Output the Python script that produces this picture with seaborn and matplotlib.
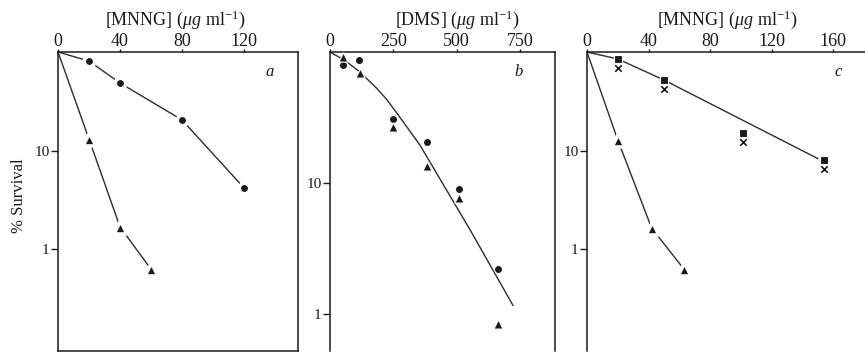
import matplotlib
matplotlib.use("Agg")
import matplotlib.pyplot as plt
from matplotlib.ticker import NullLocator
import seaborn as sns
import pandas as pd

# ---------------- data ----------------
start_conc = 0
start_surv = 100

# panel a: MNNG
a_conc_circle = [20, 40, 80, 120]
a_surv_circle = [81, 48.5, 20.5, 4.2]
a_conc_tri = [20, 40, 60]
a_surv_tri = [13.1, 1.69, 0.63]
a_xticks = [0, 40, 80, 120]

# panel b: DMS
b_conc_circle = [50, 115, 250, 385, 510, 665]
b_surv_circle = [79.6, 86.9, 30.8, 20.5, 9.0, 2.2]
b_conc_tri = [50, 118, 250, 385, 510, 665]
b_surv_tri = [91.6, 69.1, 26.8, 13.5, 7.7, 0.84]
b_curve_conc = [0, 60, 118, 186, 225, 288, 355, 553, 723]
b_curve_surv = [100, 86, 70.4, 52.5, 43.2, 29.5, 19.5, 4.4, 1.16]
b_xticks = [0, 250, 500, 750]

# panel c: MNNG
c_conc_sq = [20, 50, 101, 154]
c_surv_sq = [85, 52, 15, 8.0]
c_conc_x = [20, 50, 101, 154]
c_surv_x = [69, 42, 12.2, 6.6]
c_conc_tri = [20, 42, 63]
c_surv_tri = [12.8, 1.64, 0.63]
c_fit_conc = [0, 20, 50, 150]
c_fit_surv = [100, 85, 52, 8.3]
c_xticks = [0, 40, 80, 120, 160]

y_ticks = [1, 10]
y_ticklabels = ["1", "10"]
title_mnng = r"[MNNG] ($\mu g$ ml$^{-1}$)"
title_dms = r"[DMS] ($\mu g$ ml$^{-1}$)"
ylabel = "% Survival"

# ---------------- style ----------------
sns.set_theme(style="white")
plt.rcParams["font.family"] = ["Liberation Serif", "DejaVu Serif"]
plt.rcParams["mathtext.fontset"] = "custom"
plt.rcParams["mathtext.rm"] = "Liberation Serif"
plt.rcParams["mathtext.it"] = "Liberation Serif:italic"

INK = "#1a1a1a"
LINE = "#2e2e2e"
W, H = 865, 352

fig = plt.figure(figsize=(W / 100, H / 100), dpi=100)


def rect(l, r, t, b):
    return [l / W, 1 - b / H, (r - l) / W, (b - t) / H]


def line(ax, xs, ys):
    df = pd.DataFrame({"x": xs, "y": ys})
    sns.lineplot(data=df, x="x", y="y", ax=ax, color=LINE, lw=1.0,
                 sort=False, estimator=None, zorder=2)


def pts(ax, xs, ys, marker, s=44, halo=3.0):
    df = pd.DataFrame({"x": xs, "y": ys})
    if marker == "x":
        sns.scatterplot(data=df, x="x", y="y", ax=ax, marker="x", s=22,
                        color=INK, linewidth=1.2, zorder=3)
    else:
        sns.scatterplot(data=df, x="x", y="y", ax=ax, marker=marker, s=s,
                        color=INK, edgecolor="white", linewidth=halo, zorder=3)


def style(ax, xlim, ylim, xticks, bottom=True):
    ax.set_yscale("log")
    ax.set_xlim(*xlim)
    ax.set_ylim(*ylim)
    ax.set_xticks(xticks)
    ax.set_xticklabels([str(t) for t in xticks])
    ax.set_yticks(y_ticks)
    ax.set_yticklabels(y_ticklabels)
    ax.yaxis.set_minor_locator(NullLocator())
    ax.xaxis.tick_top()
    ax.tick_params(axis="x", top=True, bottom=False, labeltop=True,
                   labelbottom=False, direction="out", length=2, width=1,
                   pad=-0.5, labelsize=13, colors=INK)
    ax.tick_params(axis="y", left=True, direction="out", length=5, width=1,
                   pad=1, labelsize=11, colors=INK)
    ax.set_xlabel("")
    ax.set_ylabel("")
    for sp in ax.spines.values():
        sp.set_color(INK)
        sp.set_linewidth(1.1)
    ax.spines["bottom"].set_visible(bottom)
    ax.set_facecolor("none")


# panel a
ax_a = fig.add_axes(rect(58, 298, 52, 351))
line(ax_a, [start_conc] + a_conc_circle, [start_surv] + a_surv_circle)
line(ax_a, [start_conc] + a_conc_tri, [start_surv] + a_surv_tri)
pts(ax_a, a_conc_circle, a_surv_circle, "o", s=56, halo=2.5)
pts(ax_a, a_conc_tri, a_surv_tri, "^", s=85, halo=2.5)
style(ax_a, (0, 240 / 62 * 40), (100 * 10 ** (-299 / 98.7), 100), a_xticks)

# panel b
ax_b = fig.add_axes(rect(330, 555, 52, 351))
line(ax_b, b_curve_conc, b_curve_surv)
pts(ax_b, b_conc_circle, b_surv_circle, "o", s=34, halo=0.8)
pts(ax_b, b_conc_tri, b_surv_tri, "^", s=44, halo=0.8)
style(ax_b, (0, 225 / 63.3 * 250), (100 * 10 ** (-299 / 131), 100), b_xticks,
      bottom=False)

# panel c
ax_c = fig.add_axes(rect(587, 905, 52, 351))
line(ax_c, c_fit_conc, c_fit_surv)
line(ax_c, [start_conc] + c_conc_tri, [start_surv] + c_surv_tri)
pts(ax_c, c_conc_sq, c_surv_sq, "s", s=30, halo=0.8)
pts(ax_c, c_conc_x, c_surv_x, "x")
pts(ax_c, c_conc_tri, c_surv_tri, "^", s=85, halo=2.5)
style(ax_c, (0, 318 / 61.6 * 40), (100 * 10 ** (-299 / 98.7), 100), c_xticks,
      bottom=False)

# titles, labels
fig.text(175 / W, 1 - 20 / H, title_mnng, ha="center", va="center",
         fontsize=13, color=INK)
fig.text(457 / W, 1 - 20 / H, title_dms, ha="center", va="center",
         fontsize=13, color=INK)
fig.text(727 / W, 1 - 20 / H, title_mnng, ha="center", va="center",
         fontsize=13, color=INK)
fig.text(19 / W, 1 - 196 / H, ylabel, rotation=90, ha="center", va="center",
         fontsize=12, color=INK)
for lab, xp in (("a", 270), ("b", 519), ("c", 838)):
    fig.text(xp / W, 1 - 72 / H, lab, ha="center", va="center", fontsize=12,
             style="italic", color=INK)

fig.savefig("out.png", dpi=100)
